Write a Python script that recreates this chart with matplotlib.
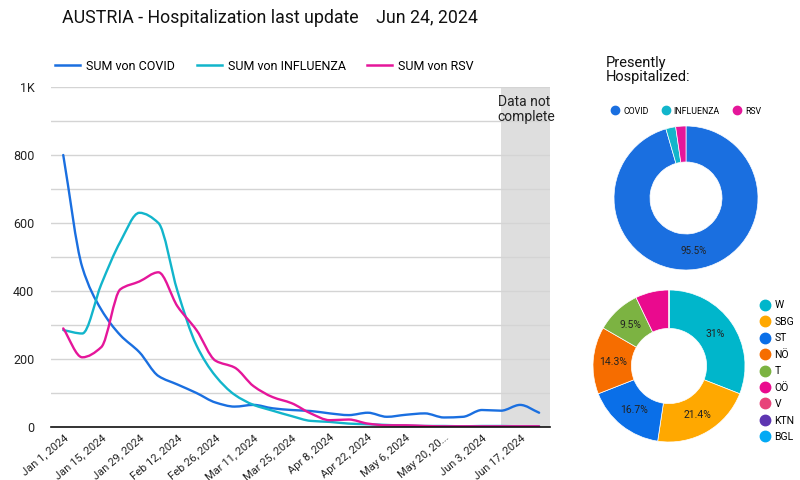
import matplotlib
matplotlib.use('Agg')
import matplotlib.pyplot as plt
import matplotlib.dates as mdates
from matplotlib.path import Path
from matplotlib.patches import PathPatch
from matplotlib.lines import Line2D
import numpy as np
import pandas as pd

plt.rcParams['font.family'] = ['Roboto', 'DejaVu Sans']

#----------------------
# Daten (woechentlich)
#----------------------
weeks = pd.date_range('2024-01-01', '2024-06-24', freq='7D')

covid = [800, 470, 345, 270, 220, 150, 125, 100, 72, 60, 65, 55, 50,
         47, 40, 35, 42, 30, 36, 40, 28, 30, 50, 48, 65, 42]
influenza = [285, 275, 420, 545, 630, 600, 400, 240, 150, 95, 65, 48, 32,
             18, 15, 10, 8, 6, 4, 3, 3, 2, 3, 3, 2, 2]
rsv = [290, 205, 235, 405, 428, 455, 355, 285, 195, 175, 120, 88, 70,
       40, 20, 22, 10, 5, 5, 3, 2, 2, 2, 2, 2, 2]

tick_dates = pd.date_range('2024-01-01', '2024-06-17', freq='14D')
tick_labels = ['Jan 1, 2024', 'Jan 15, 2024', 'Jan 29, 2024', 'Feb 12, 2024',
               'Feb 26, 2024', 'Mar 11, 2024', 'Mar 25, 2024', 'Apr 8, 2024',
               'Apr 22, 2024', 'May 6, 2024', 'May 20, 20...', 'Jun 3, 2024',
               'Jun 17, 2024']

incomplete_from = pd.Timestamp('2024-06-10')

series_names = ['SUM von COVID', 'SUM von INFLUENZA', 'SUM von RSV']
series_colors = ['#1a6fe0', '#12b5cb', '#e5169a']

# Aktuell hospitalisiert
current_labels = ['COVID', 'INFLUENZA', 'RSV']
current_values = [95.5, 2.2, 2.3]

# Bundeslaender
state_labels = ['W', 'SBG', 'ST', 'NÖ', 'T', 'OÖ', 'V', 'KTN', 'BGL']
state_values = [13, 9, 7, 6, 4, 3, 0, 0, 0]
state_colors = ['#00b6cb', '#ffa800', '#0a6fe8', '#f66d00', '#7cb342',
                '#ea0a8e', '#e8437a', '#5e35b1', '#03a9f4']


def smooth_path(x, y):
    # monotone kubische Kurve durch die Punkte (Bezier-Segmente)
    x = np.asarray(x, float)
    y = np.asarray(y, float)
    h = np.diff(x)
    d = np.diff(y) / h
    m = np.zeros_like(y)
    m[0] = d[0]
    m[-1] = d[-1]
    for i in range(1, len(y) - 1):
        if d[i - 1] * d[i] <= 0:
            m[i] = 0
        else:
            w1 = 2 * h[i] + h[i - 1]
            w2 = h[i] + 2 * h[i - 1]
            m[i] = (w1 + w2) / (w1 / d[i - 1] + w2 / d[i])
    verts = [(x[0], y[0])]
    codes = [Path.MOVETO]
    for i in range(len(x) - 1):
        verts += [(x[i] + h[i] / 3, y[i] + m[i] * h[i] / 3),
                  (x[i + 1] - h[i] / 3, y[i + 1] - m[i + 1] * h[i] / 3),
                  (x[i + 1], y[i + 1])]
        codes += [Path.CURVE4] * 3
    return Path(verts, codes)


#----------------------
# Figur
#----------------------
W, H = 800, 480
fig = plt.figure(figsize=(8, 4.8), dpi=100)

fig.text(62 / W, 1 - 18 / H, 'AUSTRIA - Hospitalization last update    Jun 24, 2024',
         fontsize=12.8, va='center', ha='left', color='#111111')

ax = fig.add_axes([51 / W, 1 - 427 / H, (550 - 51) / W, (427 - 87) / H])
xd = mdates.date2num(weeks)
for vals, col in zip([covid, influenza, rsv], series_colors):
    ax.add_patch(PathPatch(smooth_path(xd, vals), fill=False, edgecolor=col,
                           lw=1.7, zorder=3, capstyle='round'))

x0 = mdates.date2num(pd.Timestamp('2023-12-27 12:00'))
x1 = mdates.date2num(pd.Timestamp('2024-06-28'))
ax.set_xlim(x0, x1)
ax.set_ylim(0, 1000)
ax.axvspan(mdates.date2num(incomplete_from), x1, color='#dedede', zorder=0, lw=0)
ax.text(mdates.date2num(incomplete_from) - 1.2, 975, 'Data not\ncomplete', fontsize=10,
        va='top', ha='left', color='#222222', linespacing=1.0, zorder=4)

ax.set_yticks(np.arange(0, 1001, 100))
ax.set_yticklabels(['1K' if v == 1000 else (str(v) if v % 200 == 0 else '')
                    for v in range(0, 1001, 100)])
ax.yaxis.grid(True, color='#d4d4d4', lw=1)
ax.set_axisbelow(True)
ax.set_xticks(mdates.date2num(tick_dates))
ax.set_xticklabels(tick_labels, rotation=40, ha='right', rotation_mode='anchor')
ax.tick_params(axis='both', length=0, colors='#222222')
ax.tick_params(axis='y', pad=12, labelsize=9)
ax.tick_params(axis='x', pad=4, labelsize=8)
for s in ['top', 'right', 'left']:
    ax.spines[s].set_visible(False)
ax.spines['bottom'].set_color('#111111')
ax.spines['bottom'].set_linewidth(1.2)
ax.spines['bottom'].set_zorder(5)

handles = [Line2D([], [], color=c, lw=1.8) for c in series_colors]
fig.legend(handles, series_names, loc='center left', bbox_to_anchor=(44 / W, 1 - 66 / H),
           ncol=3, frameon=False, fontsize=9, handlelength=2.0, handletextpad=0.5,
           columnspacing=1.7)

#----------------------
# Donut: aktuell hospitalisiert
#----------------------
fig.text(606 / W, 1 - 70 / H, 'Presently\nHospitalized:', fontsize=10.5,
         va='center', ha='left', linespacing=1.0, color='#111111')

ax1 = fig.add_axes([(686 - 75) / W, 1 - (198 + 75) / H, 150 / W, 150 / H])
ax1.pie(current_values, colors=series_colors, startangle=90, counterclock=False,
        radius=0.96, wedgeprops=dict(width=0.48, edgecolor='white', lw=0.5),
        autopct=lambda p: f'{p:.1f}%' if p > 8 else '', pctdistance=0.75,
        textprops=dict(fontsize=7, color='#222222'))
ax1.set_xlim(-1, 1)
ax1.set_ylim(-1, 1)
h1 = [Line2D([], [], marker='o', ls='', color=c, markersize=6) for c in series_colors]
fig.legend(h1, current_labels, loc='center left', bbox_to_anchor=(602 / W, 1 - 111 / H),
           ncol=3, frameon=False, fontsize=6.3, handletextpad=0.3, columnspacing=1.4,
           handlelength=1.2)

#----------------------
# Donut: Bundeslaender
#----------------------
ax2 = fig.add_axes([(669 - 80) / W, 1 - (366 + 80) / H, 160 / W, 160 / H])
ax2.pie(state_values, colors=state_colors, startangle=90, counterclock=False,
        radius=0.95, wedgeprops=dict(width=0.48, edgecolor='white', lw=0.5),
        autopct=lambda p: ((f'{p:.0f}%' if abs(p - round(p)) < 0.05 else f'{p:.1f}%')
                           if p > 8 else ''),
        pctdistance=0.74, textprops=dict(fontsize=7.5, color='#222222'))
ax2.set_xlim(-1, 1)
ax2.set_ylim(-1, 1)
h2 = [Line2D([], [], marker='o', ls='', color=c, markersize=7.5) for c in state_colors]
fig.legend(h2, state_labels, loc='upper left', bbox_to_anchor=(749 / W, 1 - 291 / H),
           ncol=1, frameon=False, fontsize=7.5, handletextpad=0.35, labelspacing=0.62,
           handlelength=1.2)

plt.savefig('out.png', dpi=100)
